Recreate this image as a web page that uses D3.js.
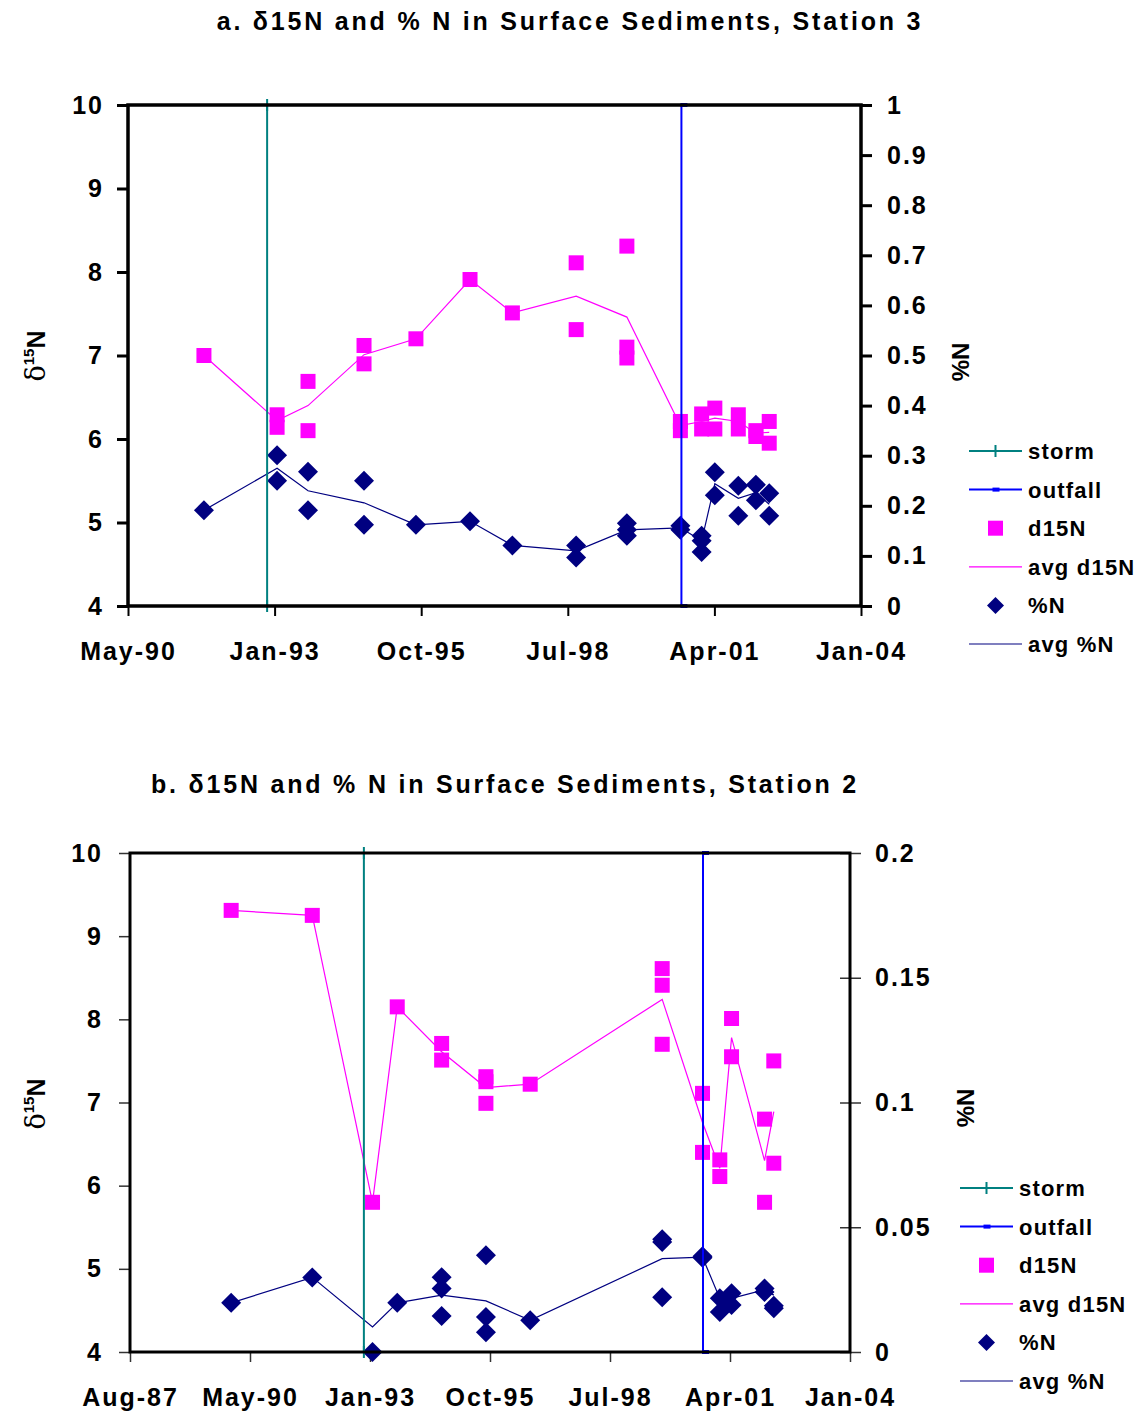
<!DOCTYPE html>
<html>
<head>
<meta charset="utf-8">
<script src="https://cdn.jsdelivr.net/npm/d3@7"></script>
<style>
  body { margin: 0; background: #fff; }
  svg text { font-family: "Liberation Sans", Arial, sans-serif; font-weight: bold; fill: #000; }
</style>
</head>
<body>
<svg id="chart" width="1148" height="1416"></svg>
<script>
// ---------- Station 3 ----------
const s3Dates = ["1991-10-07", "1993-02-17", "1993-09-16", "1994-10-03", "1995-09-22",
  "1996-09-25", "1997-07-11", "1998-09-19", "1999-08-31", "2000-08-30",
  "2001-01-22", "2001-04-22", "2001-09-29", "2002-01-27", "2002-04-28"];
const s3D15N = [[7.0], [6.29, 6.14], [6.69, 6.10], [7.12, 6.90], [7.20],
  [7.91], [7.51], [8.11, 7.31], [8.31, 7.10, 6.97], [6.21, 6.10],
  [6.30, 6.12], [6.37, 6.12], [6.29, 6.12], [6.10, 6.03], [6.21, 5.95]];
const s3AvgD15N = [7.0, 6.22, 6.40, 7.01, 7.20, 7.91, 7.51, 7.71, 7.46, 6.16, 6.21, 6.25, 6.21, 6.07, 6.08];
const s3PctN = [[0.191], [0.301, 0.25], [0.268, 0.191], [0.25, 0.162], [0.162],
  [0.169], [0.121], [0.121, 0.097], [0.165, 0.152, 0.140], [0.160, 0.152],
  [0.140, 0.130, 0.108], [0.267, 0.221], [0.240, 0.180], [0.242, 0.211], [0.225, 0.180]];
const s3AvgPctN = [0.191, 0.275, 0.23, 0.206, 0.162, 0.169, 0.121, 0.11, 0.152, 0.156, 0.13, 0.244, 0.215, 0.226, 0.203];
const s3XTicks = ["1990-05-07", "1993-01-31", "1995-10-28", "1998-07-24", "2001-04-19", "2004-01-14"];
const s3XLabels = ["May-90", "Jan-93", "Oct-95", "Jul-98", "Apr-01", "Jan-04"];
const s3RightTicks = [0, 0.1, 0.2, 0.3, 0.4, 0.5, 0.6, 0.7, 0.8, 0.9, 1];
const s3RightLabels = ["0", "0.1", "0.2", "0.3", "0.4", "0.5", "0.6", "0.7", "0.8", "0.9", "1"];

// ---------- Station 2 ----------
const s2Dates = ["1989-12-01", "1991-10-08", "1993-02-21", "1993-09-15", "1994-09-20",
  "1995-09-24", "1996-09-27", "1999-10-02", "2000-09-02", "2001-01-24",
  "2001-05-02", "2002-02-01", "2002-04-19"];
const s2D15N = [[9.31], [9.25], [5.80], [8.15], [7.71, 7.51],
  [7.31, 7.25, 6.99], [7.22], [8.61, 8.41, 7.70], [7.11, 6.40], [6.31, 6.11],
  [8.01, 7.55], [6.80, 5.80], [7.50, 6.27]];
const s2AvgD15N = [9.31, 9.25, 5.80, 8.15, 7.61, 7.18, 7.22, 8.24, 6.76, 6.21, 7.78, 6.30, 6.89];
const s2PctN = [[0.0197], [0.0299], [0.0], [0.0197], [0.030, 0.0255, 0.0144],
  [0.0388, 0.014, 0.0079], [0.0127], [0.0452, 0.0441, 0.0219], [0.0384, 0.0378], [0.0215, 0.016],
  [0.0235, 0.0188], [0.0255, 0.024], [0.0185, 0.0175]];
const s2AvgPctN = [0.0197, 0.0299, 0.01, 0.0197, 0.0228, 0.0205, 0.0127, 0.0374, 0.038, 0.0215, 0.0215, 0.025, 0.0228];
const s2XTicks = ["1987-08-11", "1990-05-07", "1993-01-31", "1995-10-28", "1998-07-24", "2001-04-19", "2004-01-14"];
const s2XLabels = ["Aug-87", "May-90", "Jan-93", "Oct-95", "Jul-98", "Apr-01", "Jan-04"];
const s2RightTicks = [0, 0.05, 0.1, 0.15, 0.2];
const s2RightLabels = ["0", "0.05", "0.1", "0.15", "0.2"];

// ---------- shared ----------
const leftTicks = [4, 5, 6, 7, 8, 9, 10];
const stormDate = "1992-12-11";
const outfallDate = "2000-09-06";
const legendLabels = ["storm", "outfall", "d15N", "avg d15N", "%N", "avg %N"];

const C = { storm: "#008080", outfall: "#0000ff", d15: "#ff00ff", pct: "#000080" };
const parse = d3.utcParse("%Y-%m-%d");
const svg = d3.select("#chart");

const diamond = "M0,-10L10,0L0,10L-10,0Z";

function drawPanel(p) {
  const x = d3.scaleUtc()
    .domain([parse(p.xTicks[0]), parse(p.xTicks[p.xTicks.length - 1])])
    .range([p.left, p.right]);
  const yL = d3.scaleLinear().domain([4, 10]).range([p.bottom, p.top]);
  const yR = d3.scaleLinear().domain([0, p.rightMax]).range([p.bottom, p.top]);
  const g = svg.append("g");

  // title
  g.append("text")
    .attr("x", p.titleX).attr("y", p.titleY)
    .attr("text-anchor", "middle")
    .style("font-size", "25px").style("letter-spacing", "2.8px")
    .text(p.title);

  // left axis
  const axL = g.append("g").attr("transform", `translate(${p.left},0)`)
    .call(d3.axisLeft(yL).tickValues(leftTicks).tickSize(11).tickPadding(p.padL).tickFormat(d3.format("d")));
  // right axis
  const axR = g.append("g").attr("transform", `translate(${p.right},0)`)
    .call(d3.axisRight(yR).tickValues(p.rightTicks).tickSize(11).tickPadding(p.padR)
      .tickFormat((d, i) => p.rightLabels[i]));
  if (p.crossRight) axR.selectAll(".tick line").attr("x1", -10);
  // bottom axis
  const axB = g.append("g").attr("transform", `translate(0,${p.bottom})`)
    .call(d3.axisBottom(x).tickValues(p.xTicks.map(parse)).tickSize(10).tickPadding(26)
      .tickFormat((d, i) => p.xLabels[i]));

  [axL, axR, axB].forEach(a => {
    a.select(".domain").remove();
    a.selectAll(".tick line").attr("stroke", p.tickColor).attr("stroke-width", p.tickWidth);
    a.selectAll(".tick text").attr("font-size", null)
      .style("font-size", "25px").style("letter-spacing", "2px")
      .style("font-family", '"Liberation Sans", Arial, sans-serif');
  });
  axB.selectAll(".tick line").attr("stroke-width", p.xTickWidth);

  // axis titles
  const lt = g.append("text")
    .attr("transform", `translate(${p.leftTitleX},${p.leftTitleY}) rotate(-90)`)
    .attr("text-anchor", "middle");
  lt.append("tspan").style("font-size", "27px").style("font-weight", "normal")
    .style("font-family", '"DejaVu Serif", serif').text("δ");
  lt.append("tspan").attr("dy", -11).style("font-size", "15px").text("15");
  lt.append("tspan").attr("dy", 11).style("font-size", "25px").text("N");

  g.append("text")
    .attr("transform", `translate(${p.rightTitleX},${p.rightTitleY}) rotate(-90)`)
    .attr("text-anchor", "middle")
    .style("font-size", "24px")
    .text("%N");

  // plot data
  const plot = g.append("g");
  const flat = (dates, vals) => dates.flatMap((d, i) => vals[i].map(v => ({ date: parse(d), v })));

  // avg d15N line
  plot.append("path")
    .attr("d", d3.line().x(d => x(parse(d[0]))).y(d => yL(d[1]))(p.dates.map((d, i) => [d, p.avgD15N[i]])))
    .attr("fill", "none").attr("stroke", C.d15).attr("stroke-width", 1.2);

  // d15N squares
  plot.selectAll("rect.d15").data(flat(p.dates, p.d15N)).join("rect")
    .attr("class", "d15")
    .attr("x", d => x(d.date) - 7.5).attr("y", d => yL(d.v) - 7.5)
    .attr("width", 15).attr("height", 15)
    .attr("fill", C.d15);

  // storm and outfall reference lines
  const ref = (date, color, marker) => {
    const xx = x(parse(date));
    plot.append("line")
      .attr("x1", xx).attr("x2", xx).attr("y1", yL(10)).attr("y2", yL(4))
      .attr("stroke", color).attr("stroke-width", 2);
    [10, 4].forEach(v => {
      const yy = yL(v);
      if (marker === "plus") {
        plot.append("path").attr("d", `M${xx - 6},${yy}H${xx + 6}M${xx},${yy - 6}V${yy + 6}`)
          .attr("stroke", color).attr("stroke-width", 2);
      } else {
        plot.append("rect").attr("x", xx - 1).attr("y", yy - 2).attr("width", 7).attr("height", 4)
          .attr("fill", color);
      }
    });
  };

  // avg %N line
  plot.append("path")
    .attr("d", d3.line().x(d => x(parse(d[0]))).y(d => yR(d[1]))(p.dates.map((d, i) => [d, p.avgPctN[i]])))
    .attr("fill", "none").attr("stroke", C.pct).attr("stroke-width", 1.2);

  // %N diamonds
  plot.selectAll("path.pct").data(flat(p.dates, p.pctN)).join("path")
    .attr("class", "pct")
    .attr("d", diamond)
    .attr("transform", d => `translate(${x(d.date)},${yR(d.v)})`)
    .attr("fill", C.pct);

  // frame
  g.append("rect")
    .attr("x", p.left).attr("y", p.top)
    .attr("width", p.right - p.left).attr("height", p.bottom - p.top)
    .attr("fill", "none").attr("stroke", "#000").attr("stroke-width", p.frameWidth);

  // event lines sit above the frame so their end markers stay visible
  ref(stormDate, C.storm, "plus");
  ref(outfallDate, C.outfall, "dash");

  // legend
  const lg = g.append("g");
  legendLabels.forEach((label, i) => {
    const yy = p.legendY + i * p.legendStep;
    const x0 = p.legendX, x1 = p.legendX + 53, xm = (x0 + x1) / 2;
    if (i === 0) {
      lg.append("line").attr("x1", x0).attr("x2", x1).attr("y1", yy).attr("y2", yy).attr("stroke", C.storm).attr("stroke-width", 2);
      lg.append("path").attr("d", `M${xm - 6},${yy}H${xm + 6}M${xm},${yy - 6}V${yy + 6}`).attr("stroke", C.storm).attr("stroke-width", 2);
    } else if (i === 1) {
      lg.append("line").attr("x1", x0).attr("x2", x1).attr("y1", yy).attr("y2", yy).attr("stroke", C.outfall).attr("stroke-width", 2);
      lg.append("rect").attr("x", xm - 3).attr("y", yy - 2).attr("width", 7).attr("height", 4).attr("fill", C.outfall);
    } else if (i === 2) {
      lg.append("rect").attr("x", xm - 7.5).attr("y", yy - 7.5).attr("width", 15).attr("height", 15).attr("fill", C.d15);
    } else if (i === 3) {
      lg.append("line").attr("x1", x0).attr("x2", x1).attr("y1", yy).attr("y2", yy).attr("stroke", C.d15).attr("stroke-width", 1.2);
    } else if (i === 4) {
      lg.append("path").attr("d", diamond).attr("transform", `translate(${xm},${yy}) scale(0.85)`).attr("fill", C.pct);
    } else {
      lg.append("line").attr("x1", x0).attr("x2", x1).attr("y1", yy).attr("y2", yy).attr("stroke", C.pct).attr("stroke-width", 1.2);
    }
    lg.append("text").attr("x", x1 + 6).attr("y", yy + 8)
      .style("font-size", "22px").style("letter-spacing", "1.2px")
      .text(label);
  });
}

drawPanel({
  title: "a. δ15N and % N in Surface Sediments, Station 3",
  titleX: 570, titleY: 30,
  left: 128, right: 861, top: 105, bottom: 606,
  xTicks: s3XTicks, xLabels: s3XLabels,
  rightMax: 1, rightTicks: s3RightTicks, rightLabels: s3RightLabels,
  dates: s3Dates, d15N: s3D15N, avgD15N: s3AvgD15N, pctN: s3PctN, avgPctN: s3AvgPctN,
  padL: 13, padR: 15, crossRight: false,
  tickColor: "#000", tickWidth: 3, xTickWidth: 2, frameWidth: 3.5,
  leftTitleX: 45, leftTitleY: 356, rightTitleX: 969, rightTitleY: 362,
  legendX: 969, legendY: 451, legendStep: 38.6
});

drawPanel({
  title: "b. δ15N and % N in Surface Sediments, Station 2",
  titleX: 505, titleY: 793,
  left: 130, right: 850, top: 853, bottom: 1352,
  xTicks: s2XTicks, xLabels: s2XLabels,
  rightMax: 0.2, rightTicks: s2RightTicks, rightLabels: s2RightLabels,
  dates: s2Dates, d15N: s2D15N, avgD15N: s2AvgD15N, pctN: s2PctN, avgPctN: s2AvgPctN,
  padL: 16, padR: 14, crossRight: true,
  tickColor: "#333", tickWidth: 1.5, xTickWidth: 1.5, frameWidth: 3,
  leftTitleX: 45, leftTitleY: 1104, rightTitleX: 974, rightTitleY: 1108,
  legendX: 960, legendY: 1188, legendStep: 38.6
});
</script>
</body>
</html>
